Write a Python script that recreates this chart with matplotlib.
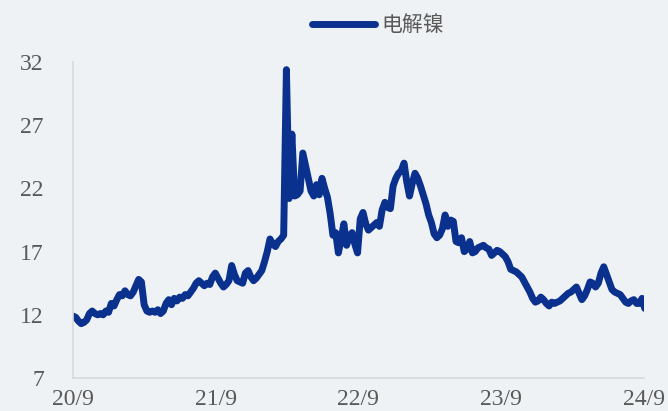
import numpy as np
import pandas as pd
import matplotlib.pyplot as plt
import matplotlib.dates as mdates

# ── Data (weekly) ───────────────────────────────────────────
start = "2020-09-01"
nickel = [
    11.9, 11.8, 11.5, 11.3, 11.4, 11.6, 12.1, 12.3, 12.1, 12.0,
    12.1, 12.0, 12.3, 12.2, 12.9, 12.7, 13.2, 13.6, 13.5, 13.9,
    13.6, 13.5, 13.8, 14.3, 14.8, 14.6, 12.8, 12.3, 12.2, 12.3,
    12.2, 12.4, 12.1, 12.3, 12.9, 13.2, 12.8, 13.3, 13.1, 13.4,
    13.3, 13.6, 13.5, 13.8, 14.1, 14.5, 14.7, 14.5, 14.3, 14.5,
    14.4, 15.0, 15.3, 14.9, 14.5, 14.2, 14.4, 14.7, 15.9, 15.2,
    14.7, 14.6, 14.5, 15.3, 15.5, 15.0, 14.7, 14.9, 15.2, 15.5,
    16.2, 17.0, 18.0, 17.6, 17.4, 17.8, 18.0, 18.3, 31.4, 21.2,
    26.3, 21.4, 21.5, 21.8, 24.8, 23.8, 22.8, 21.8, 21.4, 22.3,
    21.5, 22.8, 22.0, 21.3, 20.0, 18.3, 18.5, 16.9, 18.0, 19.2,
    17.5, 18.2, 18.5, 17.6, 16.9, 19.6, 20.1, 19.2, 18.7, 18.9,
    19.1, 19.3, 19.0, 20.3, 20.9, 20.5, 20.4, 22.2, 22.8, 23.2,
    23.4, 24.0, 22.5, 21.4, 22.4, 23.2, 22.8, 22.2, 21.5, 20.8,
    19.9, 19.3, 18.4, 18.1, 18.3, 18.8, 19.9, 19.0, 19.5, 19.4,
    17.8, 17.7, 18.1, 17.0, 17.2, 17.8, 16.9, 17.0, 17.3, 17.4,
    17.5, 17.3, 17.2, 16.7, 16.9, 17.1, 17.0, 16.8, 16.6, 16.2,
    15.6, 15.5, 15.4, 15.2, 15.0, 14.6, 14.2, 13.8, 13.3, 13.0,
    13.1, 13.4, 13.2, 12.9, 12.7, 13.0, 12.9, 13.0, 13.1, 13.3,
    13.5, 13.7, 13.8, 14.0, 14.2, 13.7, 13.2, 13.5, 14.0, 14.6,
    14.5, 14.2, 14.5, 15.3, 15.8, 15.2, 14.6, 14.0, 13.8, 13.7,
    13.6, 13.3, 13.0, 12.9, 13.1, 13.2, 12.9, 12.9, 13.3, 12.5,
]
dates = pd.date_range(start, periods=len(nickel), freq="7D")

tick_dates = ["2020-09-01", "2021-09-01", "2022-09-01", "2023-09-01", "2024-09-01"]
tick_labels = ["20/9", "21/9", "22/9", "23/9", "24/9"]
y_ticks = [7, 12, 17, 22, 27, 32]

# ── Style ───────────────────────────────────────────────────
bg = "#eef2f4"
line_color = "#0b318f"
text_color = "#595959"

fig = plt.figure(figsize=(6.68, 4.11), dpi=100, facecolor=bg)
ax = fig.add_axes([0.1093, 0.0803, 0.8548, 0.7687], facecolor=bg)

ax.plot(dates, nickel, color=line_color, lw=5.0, solid_joinstyle="round",
        solid_capstyle="round", label="电解镍")

ax.set_ylim(7, 32)
ax.set_yticks(y_ticks)
ax.set_xlim(pd.Timestamp(tick_dates[0]), pd.Timestamp(tick_dates[-1]))
ax.set_xticks([pd.Timestamp(d) for d in tick_dates])
ax.set_xticklabels(tick_labels)

for s in ["top", "right"]:
    ax.spines[s].set_visible(False)
for s in ["left", "bottom"]:
    ax.spines[s].set_color("#d9d9d9")
    ax.spines[s].set_linewidth(1.2)

ax.tick_params(axis="both", length=0, colors=text_color, labelsize=17)
ax.tick_params(axis="y", pad=21)
ax.tick_params(axis="x", pad=8)
for lab in ax.get_xticklabels() + ax.get_yticklabels():
    lab.set_family("Liberation Serif")

leg = fig.legend(loc="center", bbox_to_anchor=(0.566, 0.939), frameon=False,
                 handlelength=3.0, handletextpad=0.3,
                 prop={"family": ["Noto Sans CJK SC", "DejaVu Sans"], "size": 15})
for t in leg.get_texts():
    t.set_color(text_color)

fig.savefig("out.png", dpi=100, facecolor=bg)
